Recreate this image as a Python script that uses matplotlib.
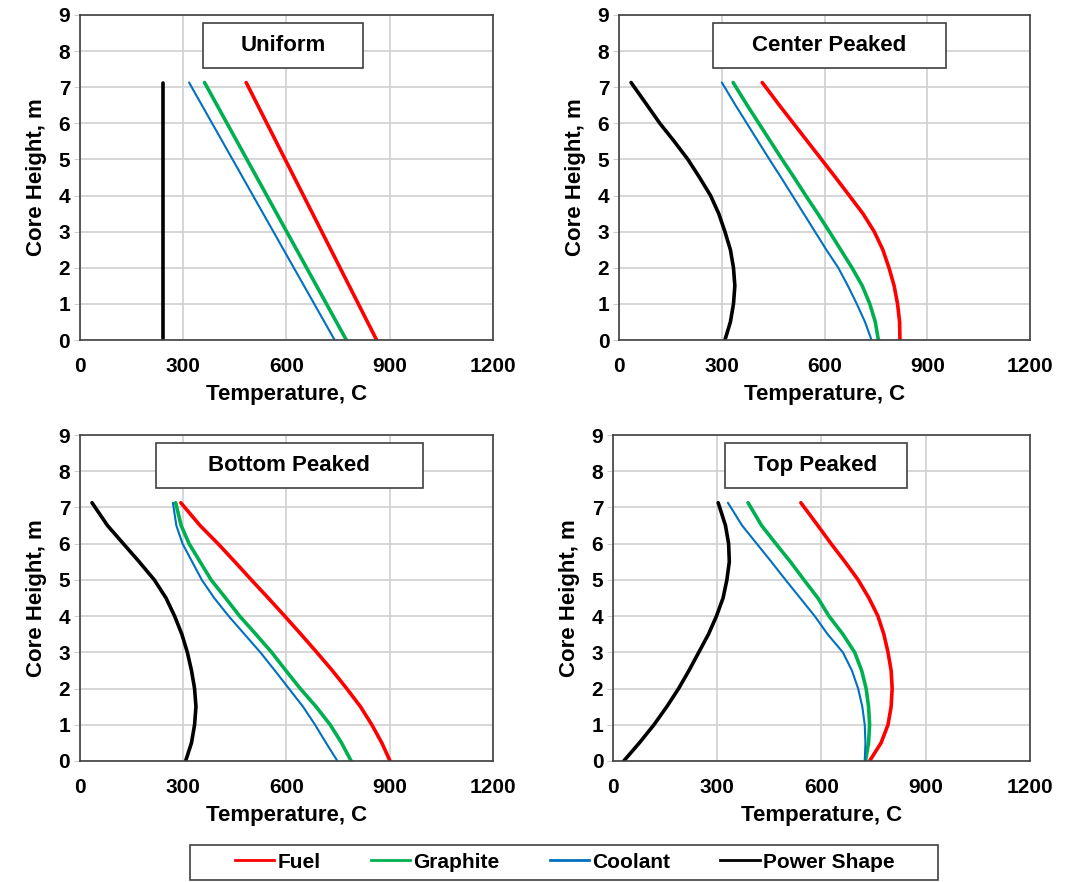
import matplotlib
matplotlib.use("Agg")
import matplotlib.pyplot as plt
from matplotlib.patches import Rectangle
from matplotlib.lines import Line2D

plt.rcParams['font.family'] = ['Liberation Sans', 'DejaVu Sans']
plt.rcParams['font.weight'] = 'bold'

# core heights (m) where values were read
z = [0, 0.5, 1, 1.5, 2, 2.5, 3, 3.5, 4, 4.5, 5, 5.5, 6, 6.5, 7.13]
z_uni = [0, 7.13]

# Uniform power shape (straight lines)
uni_fuel = [862, 483]
uni_graphite = [774, 362]
uni_coolant = [740, 317]
uni_power = [240, 240]

# Center peaked
cen_fuel = [820, 819, 813, 803, 788, 770, 745, 712, 672, 632, 591, 550, 509, 468, 418]
cen_graphite = [757, 748, 732, 710, 680, 647, 614, 580, 545, 511, 476, 442, 408, 374, 333]
cen_coolant = [737, 718, 694, 668, 640, 605, 572, 539, 506, 473, 439, 406, 373, 340, 300]
cen_power = [309, 325, 334, 338, 334, 325, 309, 291, 267, 235, 201, 161, 119, 82, 35]

# Bottom peaked
bot_fuel = [901, 877, 848, 815, 775, 733, 688, 642, 595, 547, 498, 450, 401, 349, 293]
bot_graphite = [788, 760, 727, 686, 640, 598, 557, 511, 464, 423, 381, 349, 317, 294, 278]
bot_coolant = [748, 715, 683, 648, 607, 566, 524, 478, 432, 390, 354, 326, 298, 280, 270]
bot_power = [307, 324, 333, 337, 333, 324, 312, 296, 275, 250, 216, 172, 126, 80, 35]

# Top peaked
top_fuel = [739, 772, 792, 801, 804, 801, 792, 780, 763, 737, 706, 668, 628, 590, 541]
top_graphite = [727, 736, 739, 736, 729, 716, 696, 662, 622, 590, 550, 511, 469, 428, 389]
top_coolant = [725, 727, 725, 718, 706, 688, 662, 618, 581, 539, 497, 456, 414, 372, 331]
top_power = [31, 76, 118, 155, 189, 219, 247, 275, 298, 317, 328, 335, 333, 324, 303]

panels = [
    ("Uniform", z_uni, uni_fuel, uni_graphite, uni_coolant, uni_power),
    ("Center Peaked", z, cen_fuel, cen_graphite, cen_coolant, cen_power),
    ("Bottom Peaked", z, bot_fuel, bot_graphite, bot_coolant, bot_power),
    ("Top Peaked", z, top_fuel, top_graphite, top_coolant, top_power),
]

series_names = ['Fuel', 'Graphite', 'Coolant', 'Power Shape']
colors = ['#ff0000', '#00b050', '#0070c0', 'black']
widths = [2.6, 2.6, 1.5, 2.6]

# axes rectangles in figure fraction
rects = [
    [0.0735, 0.6145, 0.3796, 0.3685],
    [0.569, 0.6145, 0.3778, 0.3685],
    [0.0735, 0.1372, 0.3796, 0.3696],
    [0.5634, 0.1372, 0.383, 0.3696],
]
# title box centre x and width (axes fraction)
boxes = [(0.4915, 0.387), (0.512, 0.567), (0.507, 0.646), (0.487, 0.436)]

fig = plt.figure(figsize=(10.88, 8.82), dpi=100)

for (title, zz, *series), r, (bx, bw) in zip(panels, rects, boxes):
    ax = fig.add_axes(r)
    for vals, c, lw in zip(series, colors, widths):
        ax.plot(vals, zz, color=c, lw=lw, solid_capstyle='round', solid_joinstyle='round')
    ax.set_xlim(0, 1200)
    ax.set_ylim(0, 9)
    ax.set_xticks([0, 300, 600, 900, 1200])
    ax.set_yticks(range(10))
    ax.grid(True, color='#d0d0d0', lw=1.2)
    ax.set_axisbelow(True)
    for s in ax.spines.values():
        s.set_color('#404040')
        s.set_linewidth(1.2)
    ax.tick_params(axis='x', length=0, pad=12, labelsize=15)
    ax.tick_params(axis='y', length=4, color='#d0d0d0', pad=3, labelsize=15)
    ax.set_xlabel('Temperature, C', fontsize=16, fontweight='bold', labelpad=6)
    ax.set_ylabel('Core Height, m', fontsize=16, fontweight='bold', labelpad=8)
    ax.add_patch(Rectangle((bx - bw / 2, 0.837), bw, 0.138, transform=ax.transAxes,
                           facecolor='white', edgecolor='#404040', lw=1.2, zorder=5))
    ax.text(bx, 0.906, title, transform=ax.transAxes, ha='center', va='center',
            fontsize=16, fontweight='bold', zorder=6)

# legend frame drawn separately so it can be wider than the entries
fig.patches.append(Rectangle((0.1746, 0.0023), 0.6875, 0.0397, transform=fig.transFigure,
                             facecolor='white', edgecolor='#404040', lw=1.2))
handles = [Line2D([], [], color=c, lw=2) for c in colors]
leg = fig.legend(handles, series_names, loc='center', ncol=4, bbox_to_anchor=(0.519, 0.0225),
                 frameon=False, handlelength=1.9, handletextpad=0.15, columnspacing=2.4,
                 borderpad=0.35, borderaxespad=0, prop={'weight': 'bold', 'size': 15})

fig.savefig('out.png', dpi=100)
